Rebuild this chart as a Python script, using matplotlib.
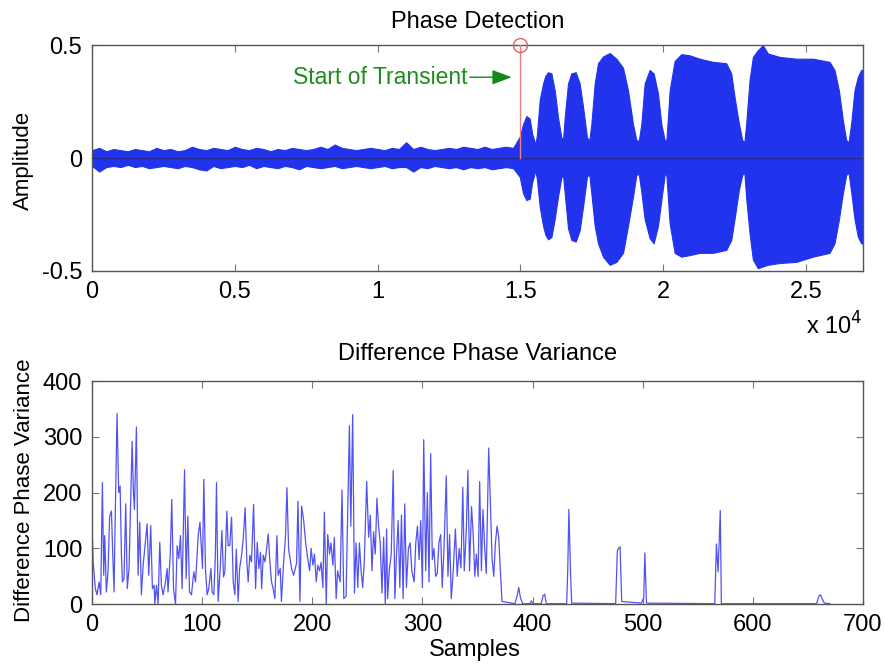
import matplotlib
matplotlib.use("Agg")
import matplotlib.pyplot as plt
import numpy as np

plt.rcParams["font.family"] = ["Liberation Sans", "DejaVu Sans"]

NOISE_X = list(range(0, 15000, 250))
NOISE_UP = [0.035, 0.045, 0.030, 0.040, 0.035, 0.030, 0.040, 0.035, 0.030, 0.045,
            0.035, 0.040, 0.030, 0.035, 0.050, 0.040, 0.035, 0.045, 0.040, 0.035,
            0.050, 0.040, 0.035, 0.045, 0.040, 0.030, 0.040, 0.035, 0.045, 0.040,
            0.035, 0.040, 0.050, 0.040, 0.060, 0.045, 0.040, 0.035, 0.040, 0.045,
            0.040, 0.035, 0.045, 0.040, 0.070, 0.040, 0.050, 0.040, 0.035, 0.040,
            0.045, 0.040, 0.050, 0.045, 0.040, 0.050, 0.040, 0.045, 0.050, 0.045]
NOISE_LO = [-0.035, -0.060, -0.040, -0.035, -0.040, -0.030, -0.040, -0.035, -0.045, -0.040,
            -0.035, -0.040, -0.045, -0.035, -0.040, -0.050, -0.055, -0.035, -0.045, -0.040,
            -0.035, -0.040, -0.030, -0.045, -0.035, -0.040, -0.045, -0.035, -0.040, -0.050,
            -0.035, -0.040, -0.045, -0.040, -0.035, -0.045, -0.040, -0.035, -0.040, -0.045,
            -0.040, -0.035, -0.045, -0.040, -0.040, -0.060, -0.040, -0.045, -0.035, -0.040,
            -0.045, -0.040, -0.050, -0.040, -0.045, -0.040, -0.050, -0.045, -0.040, -0.045]

BURST_X = [14980, 15097, 15213, 15330, 15412, 15505, 15540,
           15580, 15680, 15797, 15880, 15972, 16089, 16206, 16322, 16439, 16500,
           16556, 16672, 16789, 16941, 17081, 17198, 17337, 17420,
           17489, 17606, 17723, 17898, 18131, 18365, 18598, 18773, 18948, 19065, 19150,
           19240, 19356, 19531, 19671, 19823, 19940, 20057, 20115,
           20173, 20232, 20407, 20640, 20930, 21280, 21747, 22213, 22389, 22505, 22657, 22774, 22850,
           22914, 23031, 23147, 23322, 23497, 23672, 24081, 24664, 25248, 25831, 26006, 26158,
           26298, 26415, 26500,
           26590, 26707, 26823, 26940, 27000]
BURST_UP = [0.094, 0.150, 0.186, 0.175, 0.110, 0.070, 0.070,
            0.100, 0.257, 0.330, 0.365, 0.380, 0.375, 0.300, 0.180, 0.090, 0.085,
            0.180, 0.330, 0.375, 0.380, 0.330, 0.227, 0.090, 0.080,
            0.150, 0.330, 0.420, 0.450, 0.465, 0.440, 0.400, 0.300, 0.150, 0.080, 0.075,
            0.150, 0.330, 0.390, 0.375, 0.286, 0.150, 0.080, 0.075,
            0.180, 0.300, 0.430, 0.460, 0.455, 0.440, 0.426, 0.420, 0.375, 0.270, 0.153, 0.080, 0.070,
            0.153, 0.345, 0.448, 0.478, 0.500, 0.463, 0.448, 0.440, 0.440, 0.426, 0.390, 0.300,
            0.168, 0.080, 0.070,
            0.153, 0.300, 0.360, 0.390, 0.390]
BURST_LO = [-0.083, -0.156, -0.186, -0.180, -0.110, -0.065, -0.065,
            -0.090, -0.215, -0.300, -0.340, -0.360, -0.350, -0.270, -0.170, -0.085, -0.080,
            -0.156, -0.310, -0.363, -0.370, -0.320, -0.215, -0.080, -0.075,
            -0.156, -0.300, -0.378, -0.437, -0.473, -0.460, -0.420, -0.300, -0.170, -0.075, -0.070,
            -0.150, -0.270, -0.355, -0.378, -0.300, -0.186, -0.075, -0.070,
            -0.180, -0.290, -0.420, -0.437, -0.430, -0.420, -0.420, -0.407, -0.363, -0.270, -0.140, -0.075, -0.065,
            -0.180, -0.333, -0.450, -0.488, -0.480, -0.473, -0.465, -0.460, -0.437, -0.420, -0.378, -0.274,
            -0.156, -0.075, -0.065,
            -0.150, -0.270, -0.348, -0.378, -0.378]

TRANSIENT_X = 15000

# ── bottom panel: difference phase variance per sample ────────────────────────
VAR_X = [0, 1, 3, 4.5, 6.4, 7.9, 9.4, 10.6, 11.5, 13, 14.5, 16, 17.6, 18.8, 20, 20.6,
         22.7, 24.2, 25.5, 26.7, 27.6, 29, 30.6, 32, 33.6, 36.4, 37.6, 38.5, 40.3, 41.8,
         43.3, 44.8, 46.4, 47.9, 50, 51.5, 53.3, 54.8, 56.4, 57, 58.5, 60, 61.5, 63, 64.5,
         66.7, 68.2, 69, 71, 72.4, 74, 75.8, 77.3, 78.8, 80.3, 81.8, 84, 85.5, 87, 88.5,
         90.3, 92.4, 94, 96.4, 98, 100.3, 101.5, 103, 104.5, 106, 108, 109, 110.6, 112,
         113, 114.5, 116.4, 117.9, 119.4, 120.6, 122.4, 123.6, 125, 126.7, 128.2, 129.7,
         131, 132.7, 134, 135.8, 137.3, 139, 140.6, 141.8, 143.3, 144.8, 146.7, 148.5, 150,
         151.5, 153, 154, 155.5, 157, 158.5, 160, 161.5, 163, 164.5, 166, 167.9, 169, 170.9,
         172, 173.9, 175.7, 177, 178.5, 181.2, 183, 185.7, 187, 188.8, 190.3, 192.2, 194,
         196, 197.6, 199, 200.6, 202, 203.6, 205, 206.6, 208, 209.6, 211, 212.7, 214, 215.7,
         217, 218.7, 220, 221.7, 223, 225.3, 227, 228.6, 230.7, 232, 233.7, 235, 236.7,
         238.3, 239.8, 241.3, 242.8, 244.3, 245.8, 247.3, 249.4, 251.2, 252.7, 254.2, 255.7,
         257.2, 258.7, 260.2, 261.7, 263.3, 264.8, 266.3, 267.5, 268.4, 269.9, 271.7, 273.5,
         275, 276.5, 278, 279.5, 281, 282.5, 284, 285.5, 287.3, 288.9, 290.4, 292.5, 294,
         295.5, 297, 298.5, 300, 301.2, 303, 304.5, 306, 307.5, 309, 310.5, 312, 313.5, 315,
         316.6, 318, 319.6, 321.7, 323.2, 324.7, 326.2, 327.7, 330, 331.6, 333.4, 335, 336.7,
         338, 339.8, 341.3, 342.8, 344.6, 346, 347.6, 349, 350.6, 352, 353.6, 355, 356.6, 358,
         360.2, 362, 363.3, 364.8, 366.3, 367.8, 369.3, 370.8, 372.3,
         384, 386, 387.5, 389, 391, 398, 399, 400, 408, 409.5, 411, 412.5,
         431, 432, 433, 434.5, 435.5, 475.5, 477, 478, 479.5, 481,
         499, 500, 501, 502, 503.5, 565.5, 567, 568.5, 570.5, 571.5,
         658, 660, 661.5, 663, 665, 670]
VAR_Y = [141, 76, 28, 17, 40, 17, 218, 52, 123, 22, 58, 158, 167, 90, 22, 105,
         342, 200, 212, 88, 40, 46, 180, 28, 64, 292, 200, 170, 318, 52,
         147, 17, 70, 100, 144, 52, 141, 28, 34, 0, 34, 0, 111, 34, 17,
         40, 64, 22, 88, 188, 28, 0, 105, 82, 123, 28, 241, 46, 158, 22,
         17, 58, 40, 123, 147, 64, 224, 64, 17, 28, 64, 22, 17, 88,
         218, 5, 64, 132, 49, 58, 167, 105, 105, 156, 40, 17,
         99, 5, 64, 88, 117, 173, 76, 40, 88, 76, 179, 28, 111,
         64, 93, 28, 88, 76, 99, 126, 76, 40, 28, 10, 123, 52, 64,
         5, 73, 123, 209, 99, 64, 52, 73, 185, 5, 176, 150, 110,
         80, 60, 100, 70, 90, 40, 70, 60, 75, 30, 165, 0, 125, 90,
         110, 70, 120, 10, 60, 40, 205, 10, 15, 150, 320, 140, 340,
         20, 110, 30, 110, 60, 30, 80, 220, 120, 160, 60, 130,
         90, 190, 140, 110, 20, 120, 0, 135, 10, 60, 90, 240,
         10, 90, 150, 30, 160, 10, 180, 30, 100, 110, 60, 40, 110,
         140, 80, 150, 30, 295, 60, 200, 40, 270, 80, 100, 50, 55, 110,
         125, 30, 100, 230, 50, 125, 10, 50, 135, 50, 100, 65, 210,
         60, 130, 240, 60, 175, 130, 50, 90, 50, 220, 60, 170, 100, 55,
         280, 160, 80, 50, 110, 140, 120, 60, 5,
         1, 15, 30, 12, 1, 1, 6, 1, 1, 15, 18, 1,
         1, 60, 170, 60, 2, 1, 95, 100, 103, 5,
         2, 8, 10, 92, 2, 1, 108, 58, 168, 1,
         1, 14, 17, 10, 2, 1]

# ── figure ────────────────────────────────────────────────────────────────────
FS = 17
BLUE = "#2233ee"
fig = plt.figure(figsize=(8.85, 6.64), dpi=100)
ax1 = fig.add_axes([0.104, 0.592, 0.871, 0.340])
ax2 = fig.add_axes([0.104, 0.090, 0.871, 0.336])

tx = NOISE_X + BURST_X
tu = NOISE_UP + BURST_UP
tl = NOISE_LO + BURST_LO
ax1.fill_between(tx, tl, tu, color=BLUE, lw=0.8, edgecolor=BLUE, zorder=2)
ax1.axhline(0, color="#222244", lw=0.7, alpha=0.6, zorder=3)

# transient marker
ax1.plot([TRANSIENT_X, TRANSIENT_X], [0, 0.5], color="#f08080", lw=1.0, zorder=4)
ax1.plot([TRANSIENT_X], [0.5], "o", mfc="none", mec="#e06060", ms=10, mew=1.0,
         zorder=5, clip_on=False)
ax1.annotate("", xy=(14700, 0.358), xytext=(13230, 0.358),
             arrowprops=dict(arrowstyle="-|>,head_length=1.2,head_width=0.45",
                             color="#138a13", lw=1.0, shrinkA=0, shrinkB=0))
ax1.text(13160, 0.358, "Start of Transient", color="#1e8c1e", fontsize=16.5,
         ha="right", va="center")

ax1.set_xlim(0, 27000)
ax1.set_ylim(-0.5, 0.5)
ax1.set_xticks([0, 5000, 10000, 15000, 20000, 25000])
ax1.set_xticklabels(["0", "0.5", "1", "1.5", "2", "2.5"])
ax1.set_yticks([-0.5, 0, 0.5])
ax1.set_yticklabels(["-0.5", "0", "0.5"])
ax1.set_title("Phase Detection", fontsize=FS, pad=12.5)
ax1.set_ylabel("Amplitude", fontsize=16)
ax1.yaxis.set_label_coords(-0.076, 0.49)
fig.text(0.975, 1 - 326 / 664, r"x 10$^{4}$", fontsize=FS, ha="right", va="center")

ax2.plot(VAR_X, VAR_Y, color="#5252f2", lw=0.9)
ax2.set_xlim(0, 700)
ax2.set_ylim(0, 400)
ax2.set_xticks(range(0, 701, 100))
ax2.set_yticks(range(0, 401, 100))
ax2.set_title("Difference Phase Variance", fontsize=FS, pad=15)
ax2.set_ylabel("Difference Phase Variance", fontsize=16)
ax2.yaxis.set_label_coords(-0.074, 0.51)
ax2.set_xlabel("Samples", fontsize=FS)
ax2.xaxis.label.set_va("center")
ax2.xaxis.set_label_coords(0.497, -0.206)

for ax in (ax1, ax2):
    ax.tick_params(which="both", direction="in", length=5, width=0.8, color="#777777",
                   top=True, right=True, labelsize=FS, pad=7)
    for s in ax.spines.values():
        s.set_color("#555555")
        s.set_linewidth(1.0)

fig.savefig("out.png", dpi=100)
